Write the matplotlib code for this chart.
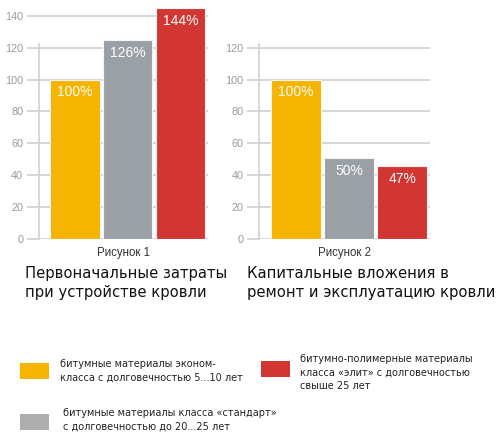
"""Затраты на кровлю: два столбчатых графика с общей легендой."""

import matplotlib
matplotlib.use('Agg')
import matplotlib.pyplot as plt
from matplotlib.patches import Rectangle

# ─── Data ─────────────────────────────────────────────────────────────────────
values_1 = [100, 125, 145]
labels_1 = ['100%', '126%', '144%']
values_2 = [100, 51, 46]
labels_2 = ['100%', '50%', '47%']
captions = ['Рисунок 1', 'Рисунок 2']
titles = ['Первоначальные затраты\nпри устройстве кровли',
          'Капитальные вложения в\nремонт и эксплуатацию кровли']
ticks_1 = [0, 20, 40, 60, 80, 100, 120, 140]
ticks_2 = [0, 20, 40, 60, 80, 100, 120]
legend_texts = ['битумные материалы эконом-\nкласса с долговечностью 5...10 лет',
                'битумные материалы класса «стандарт»\nс долговечностью до 20...25 лет',
                'битумно-полимерные материалы\nкласса «элит» с долговечностью\nсвыше 25 лет']

COLORS = ['#F5B400', '#9AA1A6', '#D13632']
LEGEND_COLORS = ['#F5B400', '#AEAEAE', '#D13632']
TICK_COLOR = '#9A9A9A'
GRID_COLOR = '#D0D0D0'
NARROW = ['Liberation Sans', 'DejaVu Sans']

W, H = 500, 445
fig = plt.figure(figsize=(W / 100, H / 100), dpi=100)
fig.patch.set_facecolor('white')


def px_axes(x0, y0, x1, y1):
    """Axes from pixel box (top-left origin)."""
    return fig.add_axes([x0 / W, 1 - y1 / H, (x1 - x0) / W, (y1 - y0) / H])


def draw_chart(ax, values, labels, ticks, ytop, spine_top, caption):
    xs = range(len(values))
    bars = ax.bar(xs, values, width=0.935, color=COLORS,
                  edgecolor='#F4F4F4', linewidth=0.8, zorder=3)
    for bar, lab in zip(bars, labels):
        ax.annotate(lab, (bar.get_x() + bar.get_width() / 2, bar.get_height()),
                    xytext=(0, -9.3), textcoords='offset points',
                    ha='center', va='center', color='white', fontsize=10,
                    family=NARROW, zorder=4)
    ax.set_xlim(-0.69, 2.52)
    ax.set_ylim(0, ytop)
    ax.set_yticks(ticks)
    for lab in ax.get_yticklabels():
        lab.set_family(NARROW)
    ax.yaxis.grid(True, color=GRID_COLOR, linewidth=1.2, zorder=0)
    ax.set_axisbelow(True)
    ax.set_xticks([])
    for s in ['top', 'right', 'bottom']:
        ax.spines[s].set_visible(False)
    ax.spines['left'].set_color(GRID_COLOR)
    ax.spines['left'].set_linewidth(1.2)
    ax.spines['left'].set_bounds(0, spine_top)
    ax.tick_params(axis='y', colors=GRID_COLOR, labelcolor=TICK_COLOR,
                   length=9, width=1.2, labelsize=7.8, pad=2)
    ax.set_xlabel(caption, fontsize=8.3, color='#333333', labelpad=6, family=NARROW)


# ─── Charts ───────────────────────────────────────────────────────────────────
ax1 = px_axes(38.5, 7.3, 208, 239)
draw_chart(ax1, values_1, labels_1, ticks_1, 145.3, 122.5, captions[0])

ax2 = px_axes(259, 7.3, 430, 239)
draw_chart(ax2, values_2, labels_2, ticks_2, 145.3, 122.5, captions[1])

# ─── Titles ───────────────────────────────────────────────────────────────────
fig.text(25 / W, 1 - 266 / H, titles[0], ha='left', va='top',
         fontsize=10.6, color='#111111', linespacing=1.3)
fig.text(247 / W, 1 - 266 / H, titles[1], ha='left', va='top',
         fontsize=10.6, color='#111111', linespacing=1.3)

# ─── Legend ───────────────────────────────────────────────────────────────────
leg = fig.add_axes([0, 0, 1, 1])
leg.set_xlim(0, W)
leg.set_ylim(H, 0)
leg.axis('off')
boxes = [(20, 363), (20, 414), (261, 361)]
text_pos = [(60, 359), (63, 408), (300, 354)]
for (bx, by), (tx, ty), c, txt in zip(boxes, text_pos, LEGEND_COLORS, legend_texts):
    leg.add_patch(Rectangle((bx, by), 29, 16, facecolor=c, edgecolor='none'))
    leg.text(tx, ty, txt, ha='left', va='top', fontsize=7.0,
             color='#222222', linespacing=1.45)

fig.savefig('out.png', dpi=100, facecolor='white')
